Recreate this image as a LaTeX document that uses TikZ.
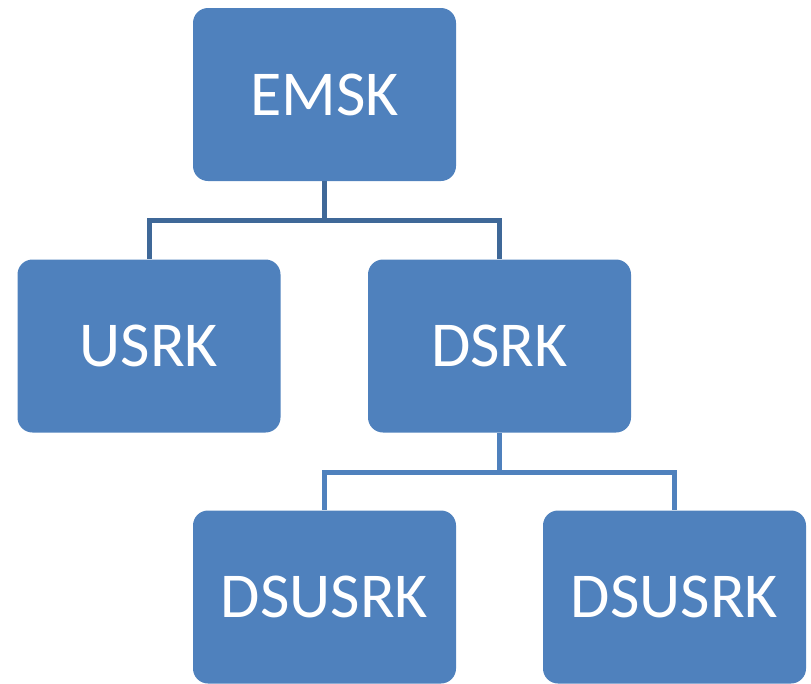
\documentclass[tikz,border=0pt]{standalone}
\usepackage{fontspec}
\setmainfont{Carlito}
\usetikzlibrary{arrows}

\definecolor{boxblue}{HTML}{4F81BD}
\definecolor{linkblue}{HTML}{3F6898}

\begin{document}
\begin{tikzpicture}[x=1pt,y=1pt,thick,key node/.style={rectangle,rounded corners=15pt,fill=boxblue,text=white,minimum width=263pt,minimum height=173pt,inner sep=0pt,font=\fontsize{64}{70}\selectfont},link/.style={draw=linkblue,line width=5pt}]
  \useasboundingbox (0,0) rectangle (811,-683);

  \node[key node] (emsk) at (324.5,-94.5) {EMSK};
  \node[key node] (usrk) at (149,-346) {USRK};
  \node[key node] (dsrk) at (499.5,-346) {DSRK};
  \node[key node] (dsusrk1) at (324.5,-597) {DSUSRK};
  \node[key node] (dsusrk2) at (674.5,-597) {DSUSRK};

  \coordinate (j1) at (324.5,-220);
  \coordinate (j2) at (499.5,-472);

\path[link]
  (emsk) -- (j1) -| (usrk)
  (j1) -| (dsrk)
;
\path[link,draw=boxblue]
  (dsrk) -- (j2) -| (dsusrk1)
  (j2) -| (dsusrk2)
;
\end{tikzpicture}
\end{document}
